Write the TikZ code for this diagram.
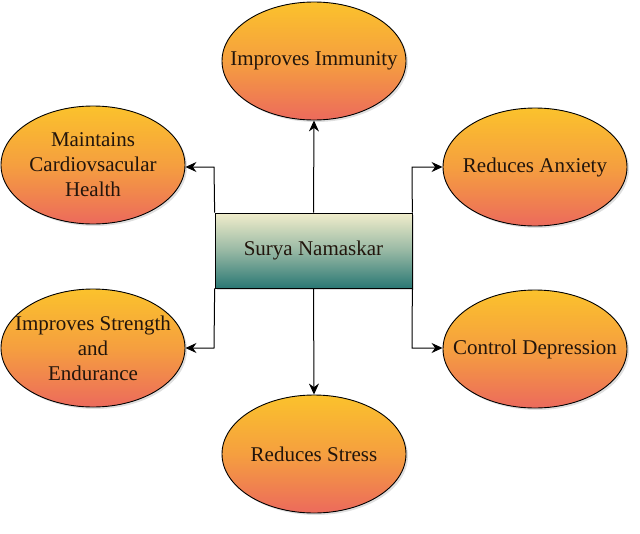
\documentclass[tikz,border=0pt]{standalone}
\usepackage{fontspec}
\setmainfont{Liberation Serif}
\usetikzlibrary{arrows.meta,shadows,shapes.geometric}
\definecolor{elltop}{HTML}{FBC22C}
\definecolor{ellbot}{HTML}{EC6A5C}
\definecolor{recttop}{HTML}{F1EDCB}
\definecolor{rectbot}{HTML}{2A7874}
\definecolor{txt}{HTML}{22150C}
\tikzset{
  benefit/.style={ellipse, draw=black, line width=0.9pt, minimum width=184pt, minimum height=118pt,
    top color=elltop, bottom color=ellbot, middle color=elltop!60!ellbot, inner sep=0pt,
    drop shadow={shadow xshift=2pt, shadow yshift=-2pt, opacity=0.25}},
  benefittext/.style={align=center, font=\fontsize{21}{25}\selectfont, text=txt, inner sep=0pt},
  centerbox/.style={rectangle, draw=black, line width=0.7pt, minimum width=197pt, minimum height=75pt,
    top color=recttop, bottom color=rectbot, middle color=recttop!55!rectbot,
    font=\fontsize{21}{25}\selectfont, text=txt, inner sep=0pt,
    drop shadow={shadow xshift=2pt, shadow yshift=-2pt, opacity=0.25}},
  link/.style={line width=1pt, -{Stealth[length=11pt,width=10pt]}}
}
\begin{document}
\begin{tikzpicture}[x=1pt,y=-1pt]
\useasboundingbox (0,0) rectangle (640,533);
\node[centerbox] (c) at (313.5,250.5) {Surya Namaskar};
\node[benefit] (imm) at (314,61) {};
\node[benefit] (card) at (93,165) {};
\node[benefit] (anx) at (535,167) {};
\node[benefit] (str) at (93,348) {};
\node[benefit] (dep) at (535,349) {};
\node[benefit] (stress) at (314,454) {};
\node[benefittext] (immt) at (imm.center) {Improves Immunity};
\node[benefittext] (cardt) at (card.center) {Maintains\\Cardiovsacular\\Health};
\node[benefittext] (anxt) at (anx.center) {Reduces Anxiety};
\node[benefittext] (strt) at (str.center) {Improves Strength\\and\\Endurance};
\node[benefittext] (dept) at (dep.center) {Control Depression};
\node[benefittext] (stresst) at (stress.center) {Reduces Stress};
\coordinate (lt) at (214,167);
\coordinate (lb) at (214,348);
\coordinate (rt) at (412,167);
\coordinate (rb) at (412,348);
\draw[link] (c.north) -- (imm.south);
\draw[link] (c.south) -- (stress.north);
\draw[link] (c.north west) -- (lt) -- (lt -| card.east);
\draw[link] (c.south west) -- (lb) -- (lb -| str.east);
\draw[link] (c.north east) -- (rt) -- (rt -| anx.west);
\draw[link] (c.south east) -- (rb) -- (rb -| dep.west);
\end{tikzpicture}
\end{document}
